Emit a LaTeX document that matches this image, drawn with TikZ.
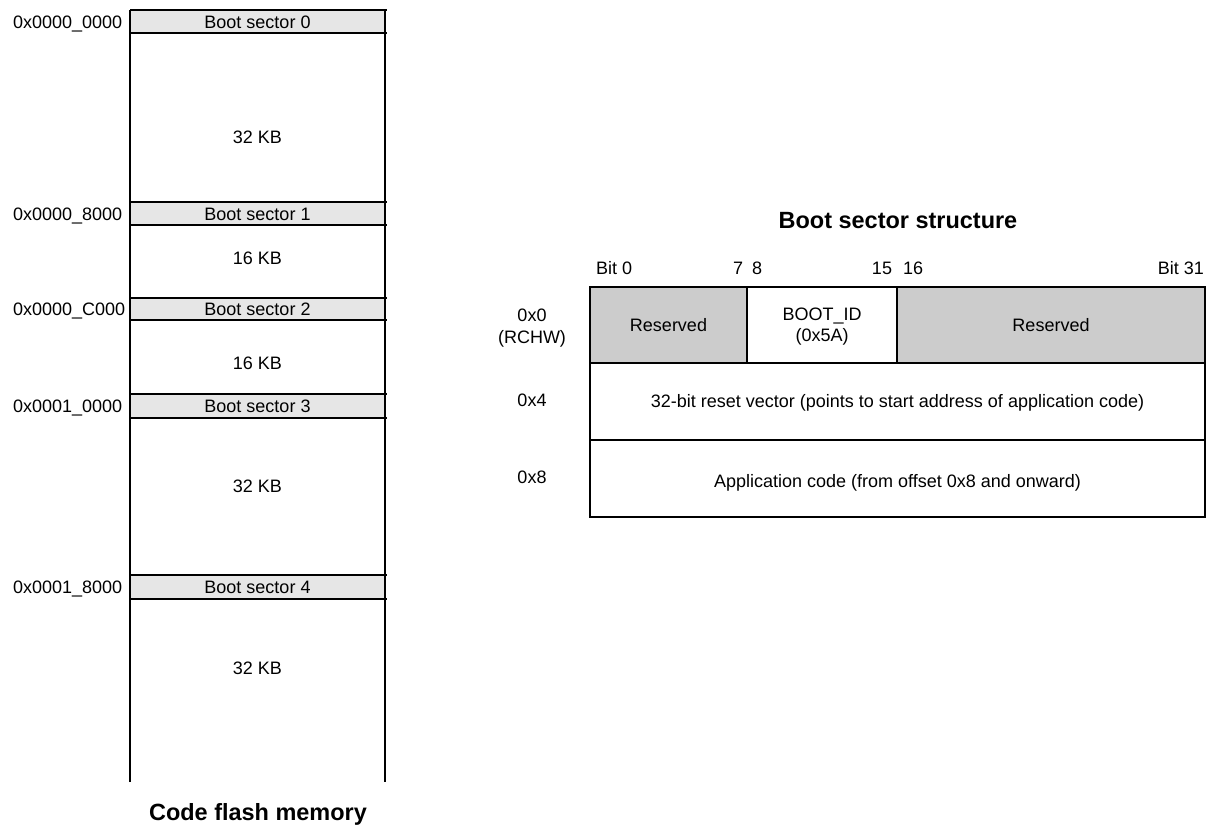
\documentclass[tikz,border=0pt]{standalone}
\usepackage{fontspec}
\setmainfont{Liberation Sans}
\definecolor{bandgray}{HTML}{E6E6E6}
\definecolor{resgray}{HTML}{CCCCCC}
\begin{document}
\begin{tikzpicture}[x=0.75pt,y=-0.75pt,line width=1.5pt,
  lbl/.style={font=\fontsize{13.5}{15}\selectfont,inner sep=0pt,anchor=base},
  lblw/.style={lbl,anchor=base west},
  lble/.style={lbl,anchor=base east},
  ttl/.style={font=\fontsize{17.6}{20}\selectfont\bfseries,inner sep=0pt,anchor=base}]
\useasboundingbox (0,0) rectangle (1212,828);
% ---------------- left: code flash memory ----------------
\foreach \t/\b in {10/33,202/225,298/320,394/418,575/599}{
  \fill[bandgray] (130,\t) rectangle (385,\b);
  \draw (130,\t) -- (387,\t);
  \draw (130,\b) -- (387,\b);
}
\draw (130,782) -- (130,10);
\draw (385,10) -- (385,782);
\node[lbl] (bs0) at (257.5,28) {Boot sector 0};
\node[lbl] (bs1) at (257.5,220) {Boot sector 1};
\node[lbl] (bs2) at (257.5,315.5) {Boot sector 2};
\node[lbl] (bs3) at (257.5,412.5) {Boot sector 3};
\node[lbl] (bs4) at (257.5,593.5) {Boot sector 4};
\node[lblw] (a0) at (12,28) {0x0000\_0000};
\node[lblw] (a1) at (12,220) {0x0000\_8000};
\node[lblw] (a2) at (12,315.5) {0x0000\_C000};
\node[lblw] (a3) at (12,412.5) {0x0001\_0000};
\node[lblw] (a4) at (12,593.5) {0x0001\_8000};
\node[lbl] (s0) at (257.5,143) {32 KB};
\node[lbl] (s1) at (257.5,264.5) {16 KB};
\node[lbl] (s2) at (257.5,369.5) {16 KB};
\node[lbl] (s3) at (257.5,492.5) {32 KB};
\node[lbl] (s4) at (257.5,674.5) {32 KB};
\node[ttl] (cfm) at (258,820) {Code flash memory};
% ---------------- right: boot sector structure ----------------
\node[ttl] (bss) at (898,228) {Boot sector structure};
\fill[resgray] (590,287) rectangle (747,363);
\fill[resgray] (897,287) rectangle (1205,363);
\draw (590,287) rectangle (1205,517);
\draw (590,363) -- (1205,363);
\draw (590,440) -- (1205,440);
\draw (747,287) -- (747,363);
\draw (897,287) -- (897,363);
\node[lblw] (b0) at (595,274) {Bit 0};
\node[lble] (b7) at (744,274) {7};
\node[lblw] (b8) at (751,274) {8};
\node[lble] (b15) at (893,274) {15};
\node[lblw] (b16) at (902,274) {16};
\node[lble] (b31) at (1205,274) {Bit 31};
\node[lbl] (o0) at (532,321) {0x0};
\node[lbl] (rchw) at (532,343) {(RCHW)};
\node[lbl] (o4) at (532,406) {0x4};
\node[lbl] (o8) at (532,483) {0x8};
\node[lbl] (r1) at (668.5,331) {Reserved};
\node[lbl] (bid) at (822,320) {BOOT\_ID};
\node[lbl] (bidv) at (822,341) {(0x5A)};
\node[lbl] (r2) at (1051,331) {Reserved};
\node[lbl] (rv) at (897.5,407) {32-bit reset vector (points to start address of application code)};
\node[lbl] (ac) at (897.5,487) {Application code (from offset 0x8 and onward)};
\end{tikzpicture}
\end{document}
